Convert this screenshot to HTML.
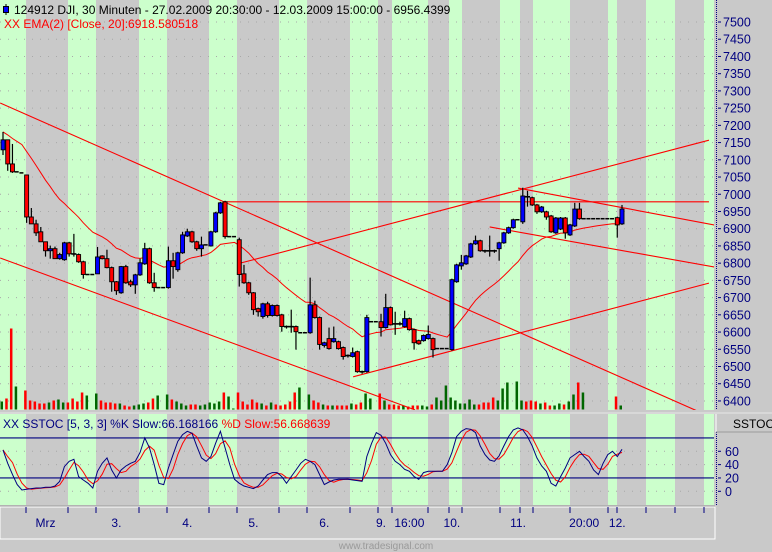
<!DOCTYPE html>
<html><head><meta charset="utf-8">
<style>
html,body{margin:0;padding:0;background:#c9c9c9;}
body{width:772px;height:552px;overflow:hidden;font-family:"Liberation Sans",sans-serif;}
svg{display:block}
</style></head>
<body>
<svg id="chart" width="772" height="552" viewBox="0 0 772 552" xmlns="http://www.w3.org/2000/svg" font-family="Liberation Sans, sans-serif">
<defs>
<clipPath id="mainClip"><rect x="0" y="0" width="714" height="410"/></clipPath>
<clipPath id="stClip"><rect x="0" y="414" width="714" height="91"/></clipPath>
</defs>
<g id="bg"></g>
<g id="grid"></g>
<g id="vol" clip-path="url(#mainClip)"></g>
<g id="lines" clip-path="url(#mainClip)"></g>
<g id="ema" clip-path="url(#mainClip)"></g>
<g id="candles" clip-path="url(#mainClip)"></g>
<g id="stoch" clip-path="url(#stClip)"></g>
<g id="axes"></g>
<text x="386" y="549" font-size="10" fill="#9a9a9a" text-anchor="middle">www.tradesignal.com</text>
</svg>
<script>
// ---- data ----
const opens=[7129,7158,7088,7065,7062,7056,6934,6914,6891,6862,6836,6842,6813,6810,6859,6827,6825,6804,6767,6767,6769,6821,6813,6787,6746,6714,6790,6746,6737,6766,6798,6842,6743,6729,6729,6729,6807,6781,6830,6879,6891,6862,6842,6853,6850,6891,6946,6978,6877,6877,6868,6769,6743,6714,6668,6645,6682,6648,6677,6650,6616,6616,6616,6598,6598,6598,6679,6642,6561,6581,6572,6572,6555,6532,6529,6543,6485,6485,6630,6630,6630,6613,6671,6624,6624,6616,6639,6607,6575,6575,6581,6581,6552,6552,6552,6549,6746,6792,6798,6818,6856,6865,6836,6836,6836,6842,6859,6888,6903,6926,6920,6993,6990,6969,6949,6949,6937,6888,6899,6931,6882,6908,6957,6929,6929,6929,6929,6929,6929,6929,6932,6914];
const highs=[7181,7158,7146,7065,7062,7056,6960,6926,6905,6862,6851,6848,6830,6862,6862,6885,6828,6807,6767,6767,6847,6823,6839,6790,6748,6792,6795,6752,6769,6813,6859,6845,6772,6729,6729,6848,6830,6833,6891,6900,6894,6865,6877,6853,6894,6949,6978,6981,6877,6877,6874,6795,6746,6716,6671,6685,6688,6680,6680,6653,6619,6665,6619,6598,6598,6758,6691,6645,6572,6613,6616,6575,6558,6535,6555,6546,6488,6650,6630,6630,6653,6711,6674,6659,6630,6662,6642,6610,6578,6593,6619,6584,6552,6552,6552,6755,6798,6824,6824,6859,6880,6868,6839,6880,6839,6862,6891,6906,6929,6926,7019,7010,6993,6972,6966,6952,6940,6934,6934,6934,6914,6975,6975,6929,6929,6929,6929,6929,6929,6929,6935,6969];
const lows=[7114,7068,7062,7065,7062,6917,6914,6879,6862,6819,6813,6813,6810,6807,6819,6819,6801,6755,6767,6767,6769,6811,6785,6717,6708,6711,6740,6731,6711,6763,6795,6740,6717,6729,6729,6726,6755,6775,6827,6876,6859,6836,6819,6853,6848,6888,6943,6871,6877,6877,6732,6740,6708,6650,6645,6639,6642,6645,6645,6601,6610,6598,6549,6598,6598,6595,6639,6549,6555,6549,6569,6549,6520,6526,6526,6482,6479,6482,6630,6630,6587,6610,6619,6592,6619,6613,6604,6549,6563,6572,6578,6526,6552,6552,6552,6546,6743,6781,6795,6815,6853,6833,6830,6819,6830,6807,6856,6885,6900,6926,6914,6964,6966,6943,6946,6926,6888,6885,6896,6871,6879,6905,6926,6929,6929,6929,6929,6929,6929,6929,6874,6911];
const closes=[7158,7088,7065,7065,7062,6934,6914,6888,6862,6836,6842,6813,6825,6859,6827,6826,6804,6767,6767,6767,6818,6813,6787,6746,6720,6790,6743,6737,6766,6801,6842,6743,6729,6729,6729,6807,6790,6830,6882,6891,6862,6842,6853,6853,6891,6946,6975,6877,6877,6877,6767,6743,6714,6665,6659,6682,6648,6677,6648,6616,6614,6614,6601,6598,6598,6679,6642,6564,6569,6552,6581,6552,6529,6530,6540,6485,6484,6642,6630,6630,6613,6671,6621,6623,6623,6639,6607,6569,6566,6590,6593,6549,6552,6552,6552,6752,6795,6801,6821,6856,6865,6836,6835,6835,6835,6859,6888,6903,6926,6926,6995,6990,6969,6949,6963,6934,6891,6931,6931,6888,6911,6957,6929,6929,6929,6929,6929,6929,6929,6929,6911,6957];
const volumes=[8,11,81,23,0,19,9,8,6,6,7,9,10,7,7,11,8,17,14,0,16,9,7,7,6,6,4,3,4,5,6,7,11,14,0,15,10,8,6,4,5,5,4,5,7,6,8,17,13,1,17,8,5,10,7,6,4,7,5,4,5,8,17,22,0,15,9,7,5,4,4,4,4,4,6,5,7,16,11,0,16,9,5,5,4,4,3,4,4,4,3,5,12,9,24,12,9,6,6,10,5,5,7,7,12,9,21,27,0,28,9,8,9,8,6,7,4,4,6,5,8,15,27,17,0,0,0,0,0,0,13,4];
const stochK=[62,42,25,10,2,3,4,5,5,6,6,8,15,37,45,48,22,17,12,5,30,42,50,32,20,32,38,42,45,58,80,65,40,12,10,35,55,75,85,90,87,68,50,45,52,72,90,65,40,18,12,8,6,4,8,17,25,28,28,22,12,22,32,42,48,45,40,25,10,14,17,18,18,18,17,16,15,52,72,88,84,72,55,45,40,33,30,22,18,28,30,30,30,30,40,58,82,90,94,93,88,68,55,47,45,53,68,82,92,95,92,82,68,50,38,30,12,8,22,35,50,55,60,52,45,32,25,42,55,60,52,63];
// trendlines: [startIndex, startPrice, endIndex, endPrice]
const trendStartIdx=[-0.6,-0.6,46.6,50.2,74.1,109,103];
const trendStartPx=[7265,6815,6978,6800,6470,7018,6905];
const trendEndIdx=[147.9,87.2,149.4,149.4,149.4,150.5,150.5];
const trendEndPx=[6365,6374,6978,7157,6742,6911,6789];
const priceTicks=[7500,7450,7400,7350,7300,7250,7200,7150,7100,7050,7000,6950,6900,6850,6800,6750,6700,6650,6600,6550,6500,6450,6400];
const stochTicks=[60,40,20,0];
const timeLabels=["Mrz","3.","4.","5.","6.","9.","16:00","10.","11.","20:00","12."];
const timeLabelIdx=[9,24,39,53,68,80,86,95,109,123,130];

const NS="http://www.w3.org/2000/svg";
function mk(tag,attrs,parent){const e=document.createElementNS(NS,tag);for(const k in attrs)e.setAttribute(k,attrs[k]);parent.appendChild(e);return e;}
const N=closes.length;
const SP=619/(N-1);
function xAt(i){return 3+i*SP;}
function yP(p){return 22+(7500-p)*0.3445;}
function yS(v){return 491.3-v*0.667;}
function yV(v){return 409.5-v;}

// background stripes (session styling)
const bg=document.getElementById('bg');
mk('rect',{x:0,y:0,width:714,height:410,fill:'#c9c9c9'},bg);
mk('rect',{x:0,y:414,width:714,height:91,fill:'#c9c9c9'},bg);
const greens=[[0,26],[68,96],[139,167],[209,237],[279,307],[350,378],[392,428],[449,462],[500,520],[533,570],[608,617],[646,675],[704,714]];
greens.forEach(g=>{
  const r1=mk('rect',{x:g[0],y:0,width:g[1]-g[0],height:410,fill:'#ccffcc'},bg);
  
  
  mk('rect',{x:g[0],y:414,width:g[1]-g[0],height:91,fill:'#ccffcc'},bg);
});
// panel separators
mk('rect',{x:0,y:410,width:772,height:4,fill:'#c9c9c9'},bg);
mk('line',{x1:0,y1:413,x2:772,y2:413,stroke:'#e8e8e8','stroke-width':1},bg);
mk('line',{x1:0,y1:506,x2:715,y2:506,stroke:'#9a9a9a','stroke-width':1},bg);

// grid dots
const grid=document.getElementById('grid');
priceTicks.forEach(p=>{
  mk('line',{x1:0,y1:yP(p),x2:714,y2:yP(p),stroke:'#a8a8a8','stroke-width':1,'stroke-dasharray':'1 7'},grid);
});
[0,20,40,60,80].forEach(v=>{
  mk('line',{x1:0,y1:yS(v),x2:714,y2:yS(v),stroke:'#a8a8a8','stroke-width':1,'stroke-dasharray':'1 7'},grid);
});

// volume
const vol=document.getElementById('vol');
for(let i=0;i<N;i++){
  if(volumes[i]<=0)continue;
  const up=closes[i]>=opens[i];
  const r=mk('rect',{x:xAt(i)-2.5,y:yV(volumes[i]),width:2.5,height:volumes[i],fill:up?'#006600':'#ff0000'},vol);
  
  
}

// trendlines
const lines=document.getElementById('lines');
for(let k=0;k<trendStartIdx.length;k++){
  const l=mk('line',{x1:xAt(trendStartIdx[k]),y1:yP(trendStartPx[k]),x2:xAt(trendEndIdx[k]),y2:yP(trendEndPx[k]),stroke:'#ff0000','stroke-width':1.1},lines);
  
  
}

// EMA 20 of closes
const emaG=document.getElementById('ema');
let e=highs[0],pts=[];
const a=2/21;
for(let i=0;i<N;i++){ if(i>0) e=e+a*(closes[i]-e); pts.push(xAt(i).toFixed(1)+','+yP(e).toFixed(1)); }
const emaL=mk('polyline',{points:pts.join(' '),fill:'none',stroke:'#ff0000','stroke-width':1},emaG);



// candles
const cg=document.getElementById('candles');
for(let i=0;i<N;i++){
  const x=xAt(i);
  const g=mk('g',{},cg);
  
  
  if(opens[i]===closes[i]&&highs[i]===lows[i]){
    mk('rect',{x:x-2.5,y:yP(closes[i])-0.75,width:4,height:1.5,fill:'#000'},g);
    continue;
  }
  mk('line',{x1:x,y1:yP(highs[i]),x2:x,y2:yP(lows[i]),stroke:'#000','stroke-width':1.2},g);
  const t=yP(Math.max(opens[i],closes[i])),b=yP(Math.min(opens[i],closes[i]));
  if(b-t<1.2){
    mk('rect',{x:x-2.5,y:t-0.7,width:5,height:1.6,fill:'#000'},g);
  } else {
    mk('rect',{x:x-2,y:t,width:4,height:b-t,fill:closes[i]>opens[i]?'#0000ff':'#ff0000',stroke:'#000','stroke-width':0.9},g);
  }
}

// stochastic
const st=document.getElementById('stoch');
mk('line',{x1:0,y1:yS(80),x2:714,y2:yS(80),stroke:'#000080','stroke-width':1.2},st);
mk('line',{x1:0,y1:yS(20),x2:714,y2:yS(20),stroke:'#000080','stroke-width':1.2},st);
const stochD=stochK.map((v,i)=>{const s=stochK.slice(Math.max(0,i-2),i+1);return s.reduce((p,q)=>p+q,0)/s.length;});
const dL=mk('polyline',{points:stochD.map((v,i)=>xAt(i).toFixed(1)+','+yS(v).toFixed(1)).join(' '),fill:'none',stroke:'#ff0000','stroke-width':1},st);


const kL=mk('polyline',{points:stochK.map((v,i)=>xAt(i).toFixed(1)+','+yS(v).toFixed(1)).join(' '),fill:'none',stroke:'#000080','stroke-width':1},st);



// axes
const ax=document.getElementById('axes');
mk('line',{x1:716.5,y1:0,x2:716.5,y2:410,stroke:'#000080','stroke-width':1,'stroke-dasharray':'1 1'},ax);
mk('line',{x1:716.5,y1:432,x2:716.5,y2:505,stroke:'#000080','stroke-width':1,'stroke-dasharray':'1 1'},ax);
priceTicks.forEach(p=>{
  mk('line',{x1:718,y1:yP(p),x2:721,y2:yP(p),stroke:'#000080','stroke-width':1},ax);
  const t=mk('text',{x:723,y:yP(p)+4.5,'font-size':12.5,fill:'#000080'},ax);
  t.textContent=p;
  
  
});
stochTicks.forEach(v=>{
  mk('line',{x1:718,y1:yS(v),x2:721,y2:yS(v),stroke:'#000080','stroke-width':1},ax);
  const t=mk('text',{x:725,y:yS(v)+4.5,'font-size':12.5,fill:'#000080'},ax);
  t.textContent=v;
  
  
});
// SSTOC box
mk('line',{x1:716,y1:414,x2:716,y2:432,stroke:'#ffffff'},ax);
mk('line',{x1:716,y1:432,x2:772,y2:432,stroke:'#9a9a9a'},ax);
const sb=mk('text',{x:733,y:428,'font-size':12,fill:'#000'},ax);
sb.textContent='SSTOC';


// time axis
mk('rect',{x:0,y:507,width:715,height:32,fill:'#c9c9c9',stroke:'#ffffff','stroke-width':1},ax);
greens.forEach(g=>{[g[0],g[1]].forEach(x=>{ if(x>0&&x<714) mk('line',{x1:x,y1:507,x2:x,y2:513,stroke:'#000080','stroke-width':1},ax);});});
for(let k=0;k<timeLabels.length;k++){
  const t=mk('text',{x:xAt(timeLabelIdx[k]),y:527,'font-size':12,fill:'#000080','text-anchor':'middle'},ax);
  t.textContent=timeLabels[k];
  
  
}
// header
const h1=mk('text',{x:14,y:14,'font-size':12,fill:'#000'},ax);
h1.textContent='124912  DJI, 30 Minuten - 27.02.2009 20:30:00 - 12.03.2009 15:00:00 - 6956.4399';


mk('line',{x1:6,y1:4,x2:6,y2:15,stroke:'#000','stroke-width':1},ax);
mk('rect',{x:3.5,y:6.5,width:5,height:6,fill:'#0000ff',stroke:'#000','stroke-width':1},ax);
const h2=mk('text',{x:4,y:28,'font-size':12,fill:'#ff0000'},ax);
h2.textContent='XX EMA(2) [Close, 20]:6918.580518';


const h3=mk('text',{x:3,y:428,'font-size':12,fill:'#000080'},ax);


const s1=mk('tspan',{},h3); s1.textContent='XX SSTOC [5, 3, 3] %K Slow:66.168166 ';
const s2=mk('tspan',{fill:'#ff0000'},h3); s2.textContent='%D Slow:56.668639';
</script>
</body></html>
